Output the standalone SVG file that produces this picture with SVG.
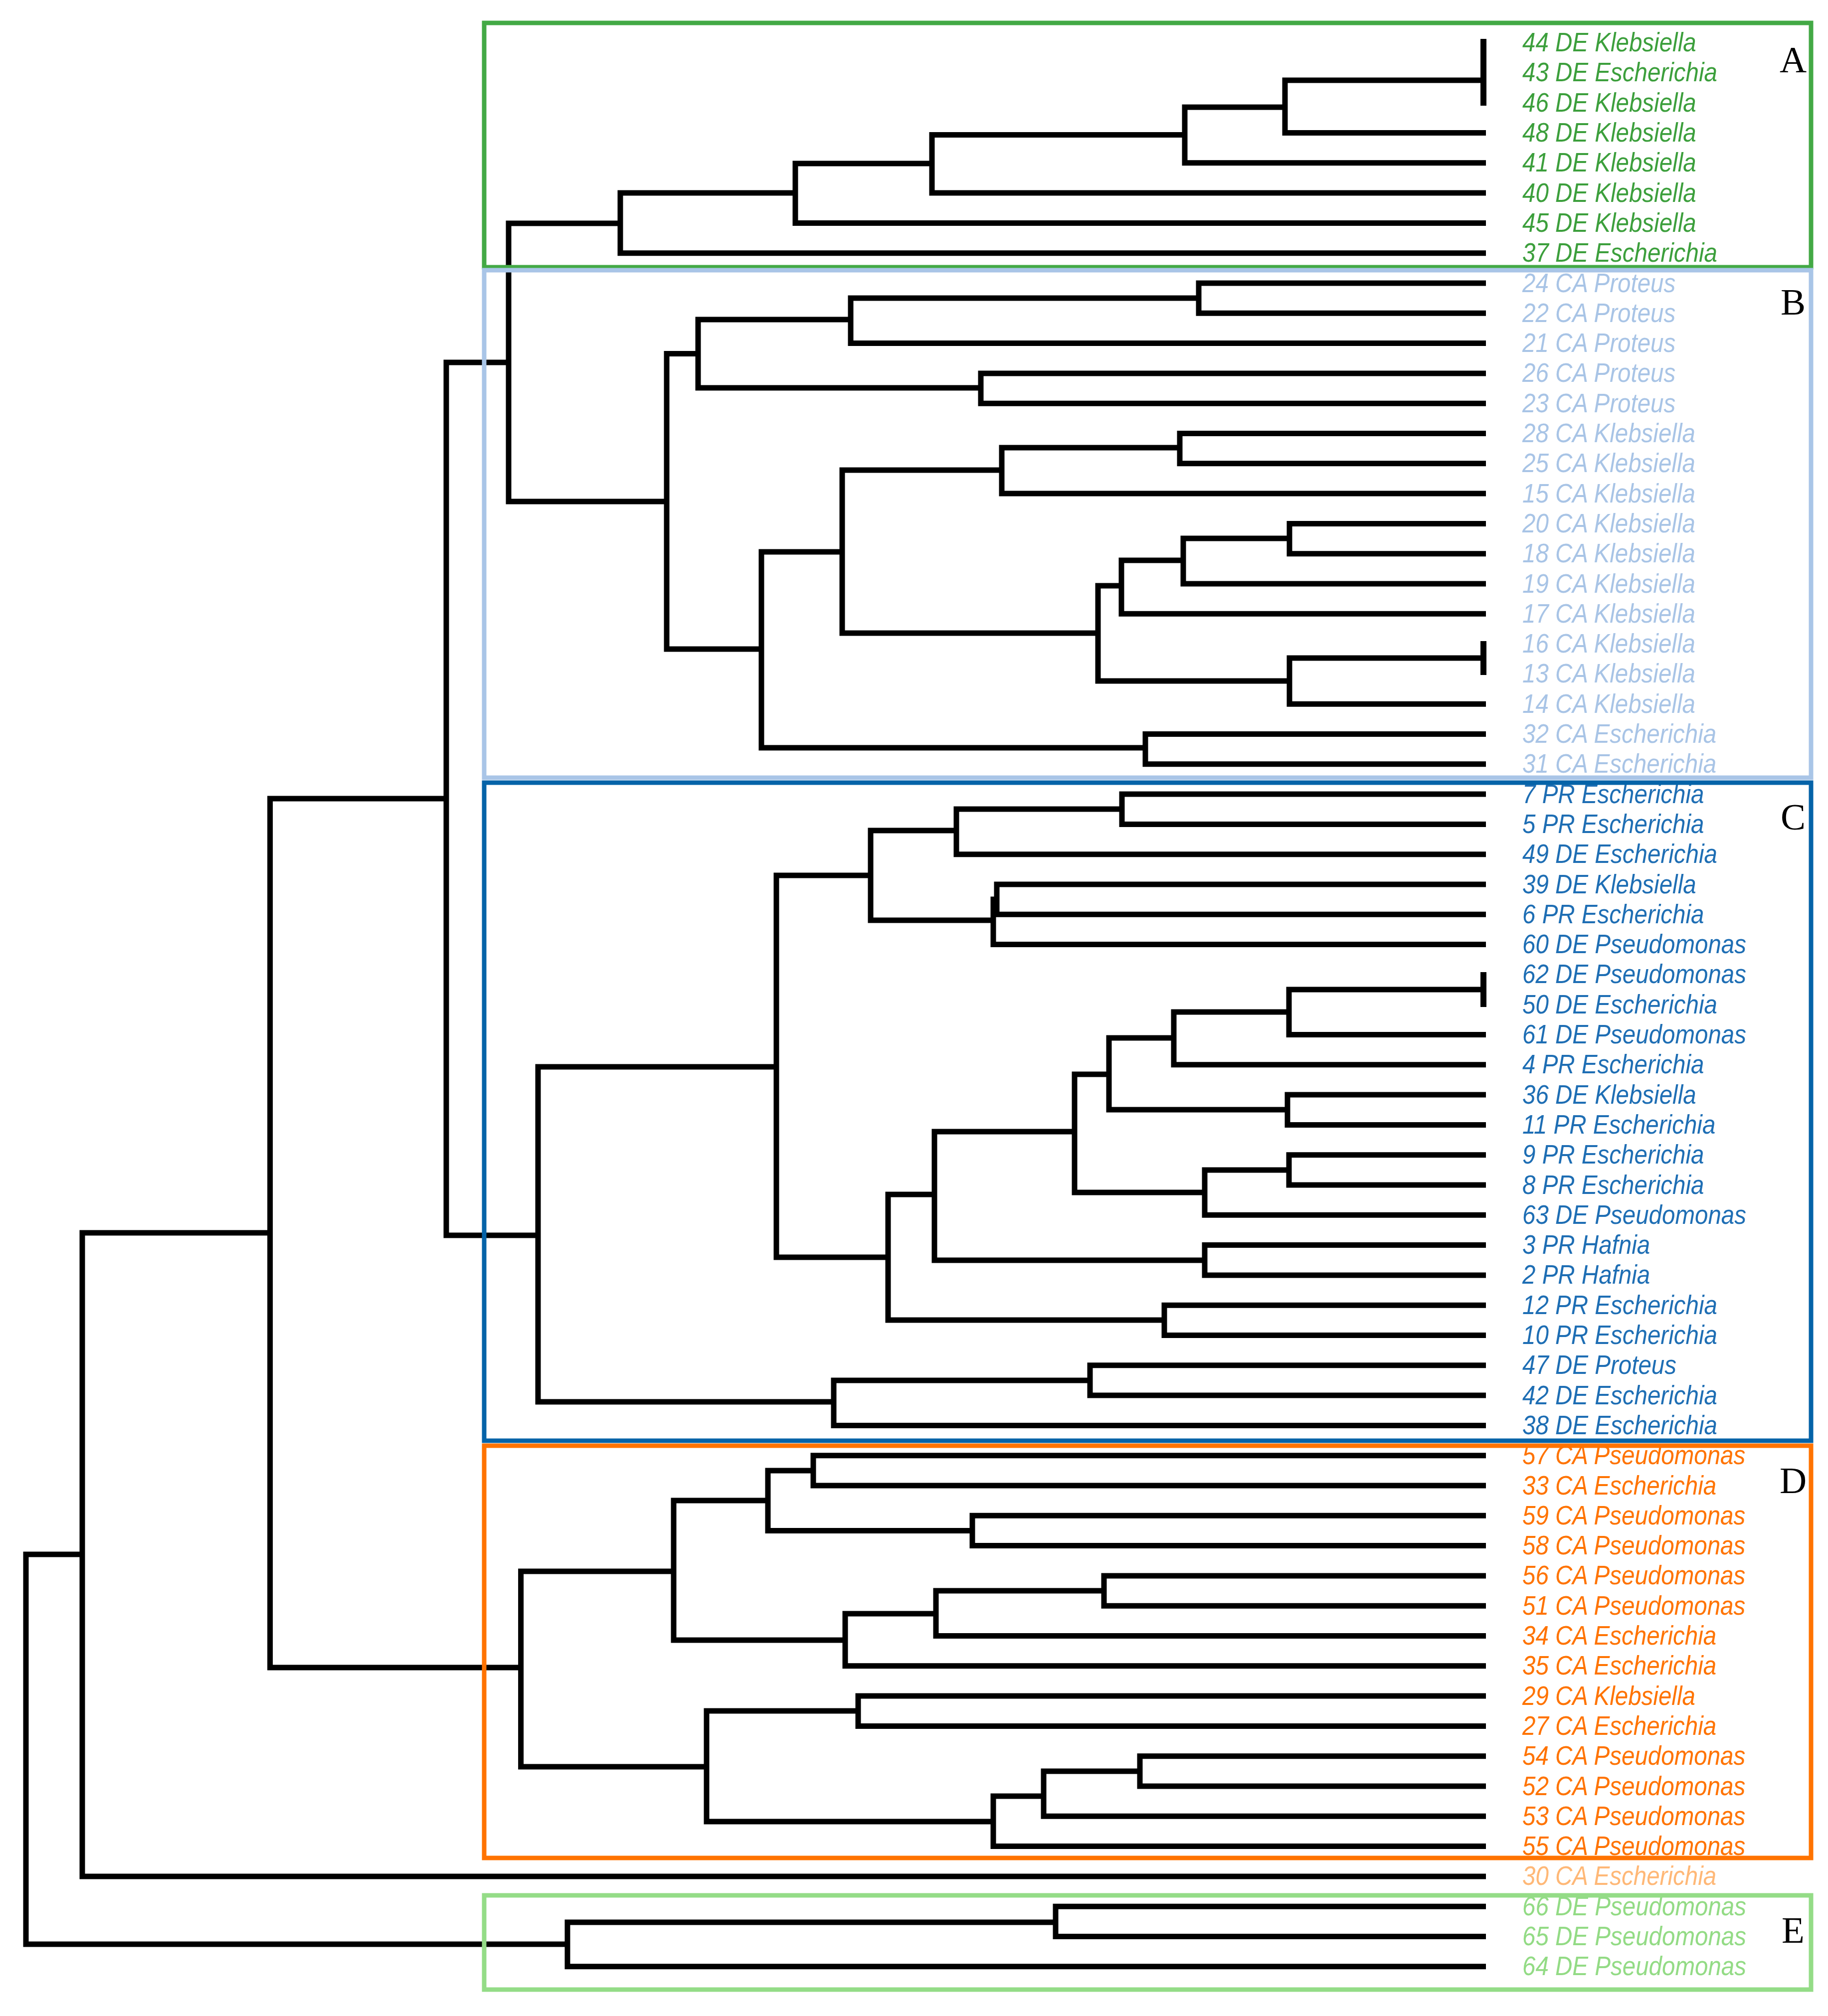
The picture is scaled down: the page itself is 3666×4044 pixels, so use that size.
<svg xmlns="http://www.w3.org/2000/svg" width="3666" height="4044" viewBox="0 0 3666 4044">
<style>
.t{fill:none;stroke:#000;stroke-width:11;stroke-linejoin:miter;stroke-linecap:butt}
.bar{fill:none;stroke:#000;stroke-width:12}
text.l{font-family:"Liberation Sans",Arial,sans-serif;font-style:italic;font-size:54px}
.a{fill:#3C9F3C}.b{fill:#A8C4E6}.c{fill:#1E6EB4}.d{fill:#FF7300}.o{fill:#FFB877}.e{fill:#93DB85}
.box{fill:none;stroke-width:9}
text.k{font-family:"Liberation Serif","Times New Roman",serif;font-size:75px;fill:#000;text-anchor:middle}
</style>
<rect width="3666" height="4044" fill="#fff"/>
<g id="connectors">
<path class="t" d="M2975,161 H2577 V266.5 H2980"/>
<path class="bar" d="M2975,78 V212"/>
<path class="t" d="M2577,215 H2376 V326.8 H2980"/>
<path class="t" d="M2376,270.5 H1869 V387.1 H2980"/>
<path class="t" d="M1869,328 H1595 V447.4 H2980"/>
<path class="t" d="M1595,387 H1244 V507.7 H2980"/>
<path class="t" d="M1244,448 H1020 V1006 H1337"/>
<path class="t" d="M1400,709.5 H1337 V1302 H1527"/>
<path class="t" d="M1706,641 H1400 V778 H1967"/>
<path class="t" d="M2404,598 H1706 V688.6 H2980"/>
<path class="t" d="M2980,568 H2404 V628.3 H2980"/>
<path class="t" d="M2980,748.9 H1967 V809.2 H2980"/>
<path class="t" d="M1689,1107 H1527 V1500 H2297"/>
<path class="t" d="M2009,943 H1689 V1270 H2202"/>
<path class="t" d="M2366,898 H2009 V990.1 H2980"/>
<path class="t" d="M2980,869.5 H2366 V929.8 H2980"/>
<path class="t" d="M2249,1175 H2202 V1366 H2586"/>
<path class="t" d="M2373,1124 H2249 V1231.3 H2980"/>
<path class="t" d="M2586,1080 H2373 V1171 H2980"/>
<path class="t" d="M2980,1050.4 H2586 V1110.7 H2980"/>
<path class="t" d="M2975,1320 H2586 V1412.2 H2980"/>
<path class="bar" d="M2975,1286 V1354"/>
<path class="t" d="M2980,1472.5 H2297 V1532.8 H2980"/>
<path class="t" d="M1020,727 H895 V2478 H1079"/>
<path class="t" d="M1557,2140 H1079 V2812 H1672"/>
<path class="t" d="M1746,1756 H1557 V2522 H1781"/>
<path class="t" d="M1918,1666 H1746 V1846 H1992"/>
<path class="t" d="M2250,1623 H1918 V1713.7 H2980"/>
<path class="t" d="M2980,1593.1 H2250 V1653.4 H2980"/>
<path class="t" d="M1999,1804 H1992 V1894.6 H2980"/>
<path class="t" d="M2980,1774 H1999 V1834.3 H2980"/>
<path class="t" d="M1874,2396 H1781 V2648 H2335"/>
<path class="t" d="M2155,2270 H1874 V2528 H2416"/>
<path class="t" d="M2224,2155 H2155 V2392 H2416"/>
<path class="t" d="M2354,2082 H2224 V2226 H2582"/>
<path class="t" d="M2585,2030 H2354 V2135.8 H2980"/>
<path class="t" d="M2975,1985 H2585 V2075.5 H2980"/>
<path class="bar" d="M2975,1950 V2020"/>
<path class="t" d="M2980,2196.1 H2582 V2256.4 H2980"/>
<path class="t" d="M2585,2347 H2416 V2437.3 H2980"/>
<path class="t" d="M2980,2316.7 H2585 V2377 H2980"/>
<path class="t" d="M2980,2497.6 H2416 V2557.9 H2980"/>
<path class="t" d="M2980,2618.2 H2335 V2678.5 H2980"/>
<path class="t" d="M2186,2769 H1672 V2859.4 H2980"/>
<path class="t" d="M2980,2738.8 H2186 V2799.1 H2980"/>
<path class="t" d="M895,1602 H541.6 V3345 H1044.6"/>
<path class="t" d="M1351,3152 H1044.6 V3544 H1417"/>
<path class="t" d="M1540,3010 H1351 V3290 H1695"/>
<path class="t" d="M1631,2950 H1540 V3070.5 H1950"/>
<path class="t" d="M2980,2919.7 H1631 V2980 H2980"/>
<path class="t" d="M2980,3040.3 H1950 V3100.6 H2980"/>
<path class="t" d="M1877,3237 H1695 V3341.8 H2980"/>
<path class="t" d="M2214,3191 H1877 V3281.5 H2980"/>
<path class="t" d="M2980,3160.9 H2214 V3221.2 H2980"/>
<path class="t" d="M1721,3432 H1417 V3654 H1992"/>
<path class="t" d="M2980,3402.1 H1721 V3462.4 H2980"/>
<path class="t" d="M2093,3603 H1992 V3703.6 H2980"/>
<path class="t" d="M2286,3553 H2093 V3643.3 H2980"/>
<path class="t" d="M2980,3522.7 H2286 V3583 H2980"/>
<path class="t" d="M541.6,2473 H165 V3763.9 H2980"/>
<path class="t" d="M165,3118 H52 V3900 H1138"/>
<path class="t" d="M2117,3856 H1138 V3944.8 H2980"/>
<path class="t" d="M2980,3824.2 H2117 V3884.5 H2980"/>
</g>
<g id="leaves">
<g id="leaf-44"><text class="l a" transform="translate(3053,103) scale(0.88,1)">44 DE Klebsiella</text></g>
<g id="leaf-43"><text class="l a" transform="translate(3053,163) scale(0.88,1)">43 DE Escherichia</text></g>
<g id="leaf-46"><text class="l a" transform="translate(3053,224) scale(0.88,1)">46 DE Klebsiella</text></g>
<g id="leaf-48"><text class="l a" transform="translate(3053,284) scale(0.88,1)">48 DE Klebsiella</text></g>
<g id="leaf-41"><text class="l a" transform="translate(3053,344) scale(0.88,1)">41 DE Klebsiella</text></g>
<g id="leaf-40"><text class="l a" transform="translate(3053,405) scale(0.88,1)">40 DE Klebsiella</text></g>
<g id="leaf-45"><text class="l a" transform="translate(3053,465) scale(0.88,1)">45 DE Klebsiella</text></g>
<g id="leaf-37"><text class="l a" transform="translate(3053,525) scale(0.88,1)">37 DE Escherichia</text></g>
<g id="leaf-24"><text class="l b" transform="translate(3053,586) scale(0.88,1)">24 CA Proteus</text></g>
<g id="leaf-22"><text class="l b" transform="translate(3053,646) scale(0.88,1)">22 CA Proteus</text></g>
<g id="leaf-21"><text class="l b" transform="translate(3053,706) scale(0.88,1)">21 CA Proteus</text></g>
<g id="leaf-26"><text class="l b" transform="translate(3053,766) scale(0.88,1)">26 CA Proteus</text></g>
<g id="leaf-23"><text class="l b" transform="translate(3053,827) scale(0.88,1)">23 CA Proteus</text></g>
<g id="leaf-28"><text class="l b" transform="translate(3053,887) scale(0.88,1)">28 CA Klebsiella</text></g>
<g id="leaf-25"><text class="l b" transform="translate(3053,947) scale(0.88,1)">25 CA Klebsiella</text></g>
<g id="leaf-15"><text class="l b" transform="translate(3053,1008) scale(0.88,1)">15 CA Klebsiella</text></g>
<g id="leaf-20"><text class="l b" transform="translate(3053,1068) scale(0.88,1)">20 CA Klebsiella</text></g>
<g id="leaf-18"><text class="l b" transform="translate(3053,1128) scale(0.88,1)">18 CA Klebsiella</text></g>
<g id="leaf-19"><text class="l b" transform="translate(3053,1189) scale(0.88,1)">19 CA Klebsiella</text></g>
<g id="leaf-17"><text class="l b" transform="translate(3053,1249) scale(0.88,1)">17 CA Klebsiella</text></g>
<g id="leaf-16"><text class="l b" transform="translate(3053,1309) scale(0.88,1)">16 CA Klebsiella</text></g>
<g id="leaf-13"><text class="l b" transform="translate(3053,1369) scale(0.88,1)">13 CA Klebsiella</text></g>
<g id="leaf-14"><text class="l b" transform="translate(3053,1430) scale(0.88,1)">14 CA Klebsiella</text></g>
<g id="leaf-32"><text class="l b" transform="translate(3053,1490) scale(0.88,1)">32 CA Escherichia</text></g>
<g id="leaf-31"><text class="l b" transform="translate(3053,1550) scale(0.88,1)">31 CA Escherichia</text></g>
<g id="leaf-7"><text class="l c" transform="translate(3053,1611) scale(0.88,1)">7 PR Escherichia</text></g>
<g id="leaf-5"><text class="l c" transform="translate(3053,1671) scale(0.88,1)">5 PR Escherichia</text></g>
<g id="leaf-49"><text class="l c" transform="translate(3053,1731) scale(0.88,1)">49 DE Escherichia</text></g>
<g id="leaf-39"><text class="l c" transform="translate(3053,1792) scale(0.88,1)">39 DE Klebsiella</text></g>
<g id="leaf-6"><text class="l c" transform="translate(3053,1852) scale(0.88,1)">6 PR Escherichia</text></g>
<g id="leaf-60"><text class="l c" transform="translate(3053,1912) scale(0.88,1)">60 DE Pseudomonas</text></g>
<g id="leaf-62"><text class="l c" transform="translate(3053,1972) scale(0.88,1)">62 DE Pseudomonas</text></g>
<g id="leaf-50"><text class="l c" transform="translate(3053,2033) scale(0.88,1)">50 DE Escherichia</text></g>
<g id="leaf-61"><text class="l c" transform="translate(3053,2093) scale(0.88,1)">61 DE Pseudomonas</text></g>
<g id="leaf-4"><text class="l c" transform="translate(3053,2153) scale(0.88,1)">4 PR Escherichia</text></g>
<g id="leaf-36"><text class="l c" transform="translate(3053,2214) scale(0.88,1)">36 DE Klebsiella</text></g>
<g id="leaf-11"><text class="l c" transform="translate(3053,2274) scale(0.88,1)">11 PR Escherichia</text></g>
<g id="leaf-9"><text class="l c" transform="translate(3053,2334) scale(0.88,1)">9 PR Escherichia</text></g>
<g id="leaf-8"><text class="l c" transform="translate(3053,2395) scale(0.88,1)">8 PR Escherichia</text></g>
<g id="leaf-63"><text class="l c" transform="translate(3053,2455) scale(0.88,1)">63 DE Pseudomonas</text></g>
<g id="leaf-3"><text class="l c" transform="translate(3053,2515) scale(0.88,1)">3 PR Hafnia</text></g>
<g id="leaf-2"><text class="l c" transform="translate(3053,2575) scale(0.88,1)">2 PR Hafnia</text></g>
<g id="leaf-12"><text class="l c" transform="translate(3053,2636) scale(0.88,1)">12 PR Escherichia</text></g>
<g id="leaf-10"><text class="l c" transform="translate(3053,2696) scale(0.88,1)">10 PR Escherichia</text></g>
<g id="leaf-47"><text class="l c" transform="translate(3053,2756) scale(0.88,1)">47 DE Proteus</text></g>
<g id="leaf-42"><text class="l c" transform="translate(3053,2817) scale(0.88,1)">42 DE Escherichia</text></g>
<g id="leaf-38"><text class="l c" transform="translate(3053,2877) scale(0.88,1)">38 DE Escherichia</text></g>
<g id="leaf-57"><text class="l d" transform="translate(3053,2937) scale(0.88,1)">57 CA Pseudomonas</text></g>
<g id="leaf-33"><text class="l d" transform="translate(3053,2998) scale(0.88,1)">33 CA Escherichia</text></g>
<g id="leaf-59"><text class="l d" transform="translate(3053,3058) scale(0.88,1)">59 CA Pseudomonas</text></g>
<g id="leaf-58"><text class="l d" transform="translate(3053,3118) scale(0.88,1)">58 CA Pseudomonas</text></g>
<g id="leaf-56"><text class="l d" transform="translate(3053,3178) scale(0.88,1)">56 CA Pseudomonas</text></g>
<g id="leaf-51"><text class="l d" transform="translate(3053,3239) scale(0.88,1)">51 CA Pseudomonas</text></g>
<g id="leaf-34"><text class="l d" transform="translate(3053,3299) scale(0.88,1)">34 CA Escherichia</text></g>
<g id="leaf-35"><text class="l d" transform="translate(3053,3359) scale(0.88,1)">35 CA Escherichia</text></g>
<g id="leaf-29"><text class="l d" transform="translate(3053,3420) scale(0.88,1)">29 CA Klebsiella</text></g>
<g id="leaf-27"><text class="l d" transform="translate(3053,3480) scale(0.88,1)">27 CA Escherichia</text></g>
<g id="leaf-54"><text class="l d" transform="translate(3053,3540) scale(0.88,1)">54 CA Pseudomonas</text></g>
<g id="leaf-52"><text class="l d" transform="translate(3053,3601) scale(0.88,1)">52 CA Pseudomonas</text></g>
<g id="leaf-53"><text class="l d" transform="translate(3053,3661) scale(0.88,1)">53 CA Pseudomonas</text></g>
<g id="leaf-55"><text class="l d" transform="translate(3053,3721) scale(0.88,1)">55 CA Pseudomonas</text></g>
<g id="leaf-30"><text class="l o" transform="translate(3053,3781) scale(0.88,1)">30 CA Escherichia</text></g>
<g id="leaf-66"><text class="l e" transform="translate(3053,3842) scale(0.88,1)">66 DE Pseudomonas</text></g>
<g id="leaf-65"><text class="l e" transform="translate(3053,3902) scale(0.88,1)">65 DE Pseudomonas</text></g>
<g id="leaf-64"><text class="l e" transform="translate(3053,3962) scale(0.88,1)">64 DE Pseudomonas</text></g>
</g>
<g id="cluster-A"><rect class="box" x="971" y="46" width="2661" height="490" stroke="#43A945"/><text class="k" x="3596" y="145">A</text></g>
<g id="cluster-B"><rect class="box" x="971" y="542" width="2661" height="1018" stroke="#A9C5E7"/><text class="k" x="3596" y="631">B</text></g>
<g id="cluster-C"><rect class="box" x="971" y="1570" width="2661" height="1320" stroke="#0563A8"/><text class="k" x="3596" y="1664">C</text></g>
<g id="cluster-D"><rect class="box" x="971" y="2900" width="2661" height="827" stroke="#FF7300"/><text class="k" x="3596" y="2995">D</text></g>
<g id="cluster-E"><rect class="box" x="971" y="3802" width="2661" height="189" stroke="#94DC87"/><text class="k" x="3596" y="3897">E</text></g>
</svg>
